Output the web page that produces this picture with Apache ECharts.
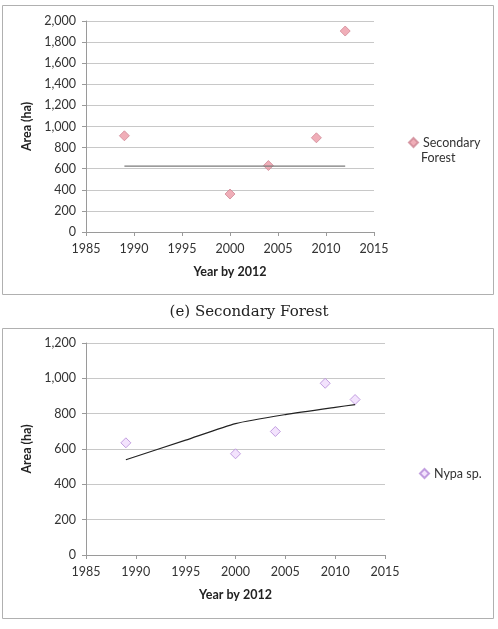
<!DOCTYPE html>
<html>
<head>
<meta charset="utf-8">
<script src="https://cdn.jsdelivr.net/npm/echarts@6/dist/echarts.min.js"></script>
<style>
  html, body { margin: 0; padding: 0; background: #fff; }
  #chart { width: 498px; height: 629px; }
</style>
</head>
<body>
<div id="chart"></div>
<script>
// (e) Secondary Forest
const forestYears = [1989, 2000, 2004, 2009, 2012];
const forestArea = [912, 360, 630, 893, 1905];
const forestTrendYears = [1989, 2012];
const forestTrend = [625, 625];

// Nypa sp.
const nypaYears = [1989, 2000, 2004, 2009, 2012];
const nypaArea = [635, 573, 699, 972, 880];
const nypaTrendYears = [1989, 1995, 2000, 2005, 2010, 2012];
const nypaTrend = [539, 650, 744, 795, 836, 851];

const xTicks = { min: 1985, max: 2015, interval: 5 };
const caption = '(e) Secondary Forest';

const font = 'Lato, "Open Sans", sans-serif';
const zip = (xs, ys) => xs.map((x, i) => [x, ys[i]]);

const chart = echarts.init(document.getElementById('chart'));

const xAxisBase = (gridIndex) => ({
  type: 'value',
  gridIndex,
  min: xTicks.min,
  max: xTicks.max,
  interval: xTicks.interval,
  name: 'Year by 2012',
  nameLocation: 'middle',
  nameGap: 33,
  nameTextStyle: { fontFamily: font, fontWeight: 'bold', fontSize: 12.5, color: '#222' },
  axisLine: { show: true, lineStyle: { color: '#9a9a9a' } },
  axisTick: { show: true, length: 4, lineStyle: { color: '#9a9a9a' } },
  axisLabel: { fontFamily: font, fontSize: 12.5, color: '#333', margin: 10, formatter: (v) => String(v) },
  splitLine: { show: false },
});

const yAxisBase = (gridIndex, max) => ({
  type: 'value',
  gridIndex,
  min: 0,
  max,
  interval: 200,
  name: 'Area (ha)',
  nameLocation: 'middle',
  nameGap: 49,
  nameTextStyle: { fontFamily: font, fontWeight: 'bold', fontSize: 12.5, color: '#222' },
  axisLine: { show: true, lineStyle: { color: '#9a9a9a' } },
  axisTick: { show: true, length: 4, lineStyle: { color: '#9a9a9a' } },
  axisLabel: {
    fontFamily: font, fontSize: 12.5, color: '#333', margin: 10,
    formatter: (v) => v.toLocaleString('en-US'),
  },
  splitLine: { show: true, lineStyle: { color: '#c8c8c8' } },
});

const option = {
  animation: false,
  graphic: [
    { type: 'rect', shape: { x: 2.5, y: 5.5, width: 491, height: 289 }, style: { fill: 'none', stroke: '#b0b0b0', lineWidth: 1 } },
    { type: 'rect', shape: { x: 2.5, y: 328.5, width: 491, height: 290 }, style: { fill: 'none', stroke: '#b0b0b0', lineWidth: 1 } },
    {
      type: 'text', left: 'center', top: 305,
      style: { text: caption, font: '15px "DejaVu Serif", "Liberation Serif", serif', fill: '#222' },
    },
    {
      type: 'text', left: 421, top: 151,
      style: { text: 'Forest', font: '12.5px Lato, "Open Sans", sans-serif', fill: '#333' },
    },
  ],
  grid: [
    { left: 86, top: 21, width: 288, height: 211 },
    { left: 86, top: 343, width: 299, height: 212 },
  ],
  xAxis: [xAxisBase(0), xAxisBase(1)],
  yAxis: [yAxisBase(0, 2000), yAxisBase(1, 1200)],
  legend: [
    {
      data: ['Secondary Forest'],
      left: 403, top: 131,
      itemWidth: 9, itemHeight: 9, itemGap: 4,
      formatter: () => 'Secondary',
      textStyle: { fontFamily: font, fontSize: 12.5, color: '#333' },
    },
    {
      data: ['Nypa sp.'],
      left: 414, top: 462,
      itemWidth: 9, itemHeight: 9, itemGap: 4,
      textStyle: { fontFamily: font, fontSize: 12.5, color: '#333' },
    },
  ],
  series: [
    {
      name: 'Forest trend', type: 'line', xAxisIndex: 0, yAxisIndex: 0,
      data: zip(forestTrendYears, forestTrend),
      showSymbol: false, lineStyle: { color: '#7a7a7a', width: 1.2 },
    },
    {
      name: 'Secondary Forest', type: 'scatter', xAxisIndex: 0, yAxisIndex: 0,
      data: zip(forestYears, forestArea),
      symbol: 'diamond', symbolSize: 10,
      itemStyle: { color: '#ec9aa6', borderColor: '#d08896', borderWidth: 1 },
    },
    {
      name: 'Nypa trend', type: 'line', xAxisIndex: 1, yAxisIndex: 1,
      data: zip(nypaTrendYears, nypaTrend),
      smooth: 0.2, showSymbol: false, lineStyle: { color: '#222', width: 1.2 },
    },
    {
      name: 'Nypa sp.', type: 'scatter', xAxisIndex: 1, yAxisIndex: 1,
      data: zip(nypaYears, nypaArea),
      symbol: 'diamond', symbolSize: 10,
      itemStyle: { color: '#f0dcfc', borderColor: '#b48ad8', borderWidth: 1 },
    },
  ],
};

chart.setOption(option);
</script>
</body>
</html>
